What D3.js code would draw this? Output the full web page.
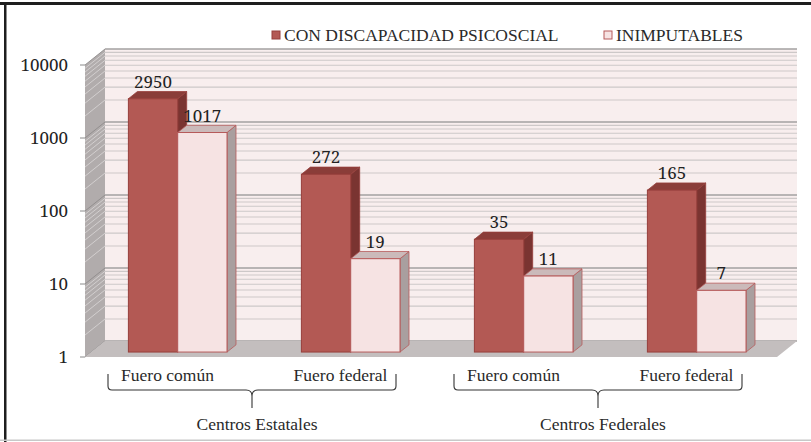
<!DOCTYPE html>
<html>
<head>
<meta charset="utf-8">
<script src="https://cdn.jsdelivr.net/npm/d3@7"></script>
<style>
  body { margin: 0; background: #fff; }
  svg { display: block; }
</style>
</head>
<body>
<svg width="811" height="442"></svg>
<script>
// data
const categories = ["Fuero común", "Fuero federal", "Fuero común", "Fuero federal"];
const groupNames = ["Centros Estatales", "Centros Federales"];
const categoryGroup = [0, 0, 1, 1];
const seriesNames = ["CON DISCAPACIDAD PSICOSCIAL", "INIMPUTABLES"];
const discapacidad = [2950, 272, 35, 165];
const inimputables = [1017, 19, 11, 7];
const tickValues = [1, 10, 100, 1000, 10000];

const seriesValues = [discapacidad, inimputables];

// 3d look: depth offset of the back wall
const DX = 20, DY = -16;
const barZ0 = 0.31, barZ1 = 0.76;

const labelFont = "'Liberation Serif', serif";
const numberFont = "'Noto Serif', serif";

const faces = [
  {front: "#b35954", top: "#8a3d39", side: "#7a3431", stroke: "#973f3b"},
  {front: "#f6e3e3", top: "#cbbaba", side: "#a99f9f", stroke: "#b65a5a"}
];

var svg = d3.select("svg");

// frame
svg.append("rect").attr("x", 0).attr("y", 2).attr("width", 811).attr("height", 3).attr("fill", "#1e1e1e");
svg.append("rect").attr("x", 4).attr("y", 2).attr("width", 2.5).attr("height", 440).attr("fill", "#1e1e1e");
svg.append("rect").attr("x", 0).attr("y", 439.5).attr("width", 811).attr("height", 1.5).attr("fill", "#c8c8c8");

var x0 = d3.scaleBand()
    .domain(d3.range(categories.length))
    .range([85, 777])
    .paddingInner(0.43)
    .paddingOuter(0.215);

var x1 = d3.scaleBand()
    .domain(d3.range(seriesNames.length))
    .range([0, x0.bandwidth()]);

var y = d3.scaleLog()
    .domain([1, 10000])
    .range([357, 65]);

var xLeft = x0.range()[0], xRight = x0.range()[1];

function P(x, yy, z) {
  return [x + z * DX, yy + z * DY];
}
function poly(pts) {
  return pts.map(p => p.join(",")).join(" ");
}

let chart = svg.append("g");

// back wall
chart.append("polygon")
    .attr("points", poly([P(xLeft, y(10000), 1), P(xRight, y(10000), 1), P(xRight, y(1), 1), P(xLeft, y(1), 1)]))
    .attr("fill", "#f8eeee");

// side wall
chart.append("polygon")
    .attr("points", poly([P(xLeft, y(10000), 0), P(xLeft, y(10000), 1), P(xLeft, y(1), 1), P(xLeft, y(1), 0)]))
    .attr("fill", "#b1acac");

var gridVals = y.ticks();
var isMajor = v => Math.abs(Math.log10(v) - Math.round(Math.log10(v))) < 1e-9;

chart.selectAll(".grid")
    .data(gridVals)
    .enter()
    .append("line")
    .attr("class", "grid")
    .attr("x1", d => P(xLeft, y(d), 1)[0])
    .attr("y1", d => P(xLeft, y(d), 1)[1])
    .attr("x2", d => P(xRight, y(d), 1)[0])
    .attr("y2", d => P(xRight, y(d), 1)[1])
    .attr("stroke", d => isMajor(d) ? "#a3a0a0" : "#cdc8c8")
    .attr("stroke-width", d => isMajor(d) ? 1.6 : 1.1);

chart.selectAll(".sidegrid")
    .data(gridVals)
    .enter()
    .append("line")
    .attr("class", "sidegrid")
    .attr("x1", d => P(xLeft, y(d), 0)[0])
    .attr("y1", d => P(xLeft, y(d), 0)[1])
    .attr("x2", d => P(xLeft, y(d), 1)[0])
    .attr("y2", d => P(xLeft, y(d), 1)[1])
    .attr("stroke", d => isMajor(d) ? "#8f8b8b" : "#d6d2d2")
    .attr("stroke-width", 0.9);

// floor
chart.append("polygon")
    .attr("points", poly([P(xLeft, y(1), 0), P(xLeft, y(1), 1), P(xRight, y(1), 1), P(xRight, y(1), 0)]))
    .attr("fill", "#c3bebe");

// y ticks
chart.selectAll(".tick")
    .data(tickValues)
    .enter()
    .append("line")
    .attr("x1", xLeft - 5)
    .attr("x2", xLeft)
    .attr("y1", d => y(d))
    .attr("y2", d => y(d))
    .attr("stroke", "#8a8a8a")
    .attr("stroke-width", 1);

chart.selectAll(".ticklabel")
    .data(tickValues)
    .enter()
    .append("text")
    .attr("x", 68)
    .attr("y", d => y(d) + 6)
    .attr("text-anchor", "end")
    .style("font-family", numberFont)
    .style("font-size", "17px")
    .attr("fill", "#222")
    .text(d => d);

// bars
categories.forEach(function(c, i) {
  seriesValues.forEach(function(vals, s) {
    var v = vals[i];
    var xl = x0(i) + x1(s), xr = xl + x1.bandwidth();
    var f = faces[s];
    var ft = P(xl, y(v), barZ0), ftr = P(xr, y(v), barZ0);
    var bt = P(xl, y(v), barZ1), btr = P(xr, y(v), barZ1);
    var fbr = P(xr, y(1), barZ0), bbr = P(xr, y(1), barZ1);

    chart.append("polygon")
        .attr("points", poly([fbr, ftr, btr, bbr]))
        .attr("fill", f.side)
        .attr("stroke", f.stroke).attr("stroke-width", 0.8);
    chart.append("polygon")
        .attr("points", poly([ft, ftr, btr, bt]))
        .attr("fill", f.top)
        .attr("stroke", f.stroke).attr("stroke-width", 0.8);
    chart.append("rect")
        .attr("x", ft[0])
        .attr("y", ft[1])
        .attr("width", x1.bandwidth())
        .attr("height", P(xl, y(1), barZ0)[1] - ft[1])
        .attr("fill", f.front)
        .attr("stroke", f.stroke)
        .attr("stroke-width", 1);

    chart.append("text")
        .attr("x", ft[0] + x1.bandwidth() / 2)
        .attr("y", ft[1] - 11)
        .attr("text-anchor", "middle")
        .style("font-family", numberFont)
        .style("font-size", "17px")
        .attr("fill", "#222")
        .text(v);
  });
});

// category labels
chart.selectAll(".cat")
    .data(categories)
    .enter()
    .append("text")
    .attr("x", (d, i) => x0(i) + x0.bandwidth() / 2 - 4)
    .attr("y", 381)
    .attr("text-anchor", "middle")
    .style("font-family", labelFont)
    .style("font-size", "17.5px")
    .attr("fill", "#2a2a2a")
    .text(d => d);

// group braces
groupNames.forEach(function(g, gi) {
  var idx = d3.range(categories.length).filter(i => categoryGroup[i] == gi);
  var step = x0.step();
  var a = x0(idx[0]) - x0.paddingOuter() * step + 23;
  var b = x0(idx[idx.length - 1]) + x0.bandwidth() + x0.paddingOuter() * step - 35;
  var m = (a + b) / 2;
  var yl = 390;
  var path = d3.path();
  path.moveTo(a, 374);
  path.lineTo(a, yl - 4);
  path.quadraticCurveTo(a, yl, a + 4, yl);
  path.lineTo(m - 6, yl);
  path.quadraticCurveTo(m, yl, m, yl + 6);
  path.quadraticCurveTo(m, yl, m + 6, yl);
  path.lineTo(b - 4, yl);
  path.quadraticCurveTo(b, yl, b, yl - 4);
  path.lineTo(b, 374);
  path.moveTo(m, yl + 5);
  path.lineTo(m, 408);
  chart.append("path")
      .attr("d", path.toString())
      .attr("fill", "none")
      .attr("stroke", "#333")
      .attr("stroke-width", 1.1);

  chart.append("text")
      .attr("x", m + 5)
      .attr("y", 430)
      .attr("text-anchor", "middle")
      .style("font-family", labelFont)
      .style("font-size", "17.5px")
      .attr("fill", "#2a2a2a")
      .text(g);
});

// legend
var legendX = [272, 604];
seriesNames.forEach(function(n, s) {
  svg.append("rect")
      .attr("x", legendX[s])
      .attr("y", 31)
      .attr("width", 8)
      .attr("height", 8)
      .attr("fill", faces[s].front)
      .attr("stroke", faces[s].stroke)
      .attr("stroke-width", 1);
  svg.append("text")
      .attr("x", legendX[s] + 12)
      .attr("y", 41)
      .style("font-family", labelFont)
      .style("font-size", "17.5px")
      .attr("fill", "#2a2a2a")
      .text(n);
});
</script>
</body>
</html>
